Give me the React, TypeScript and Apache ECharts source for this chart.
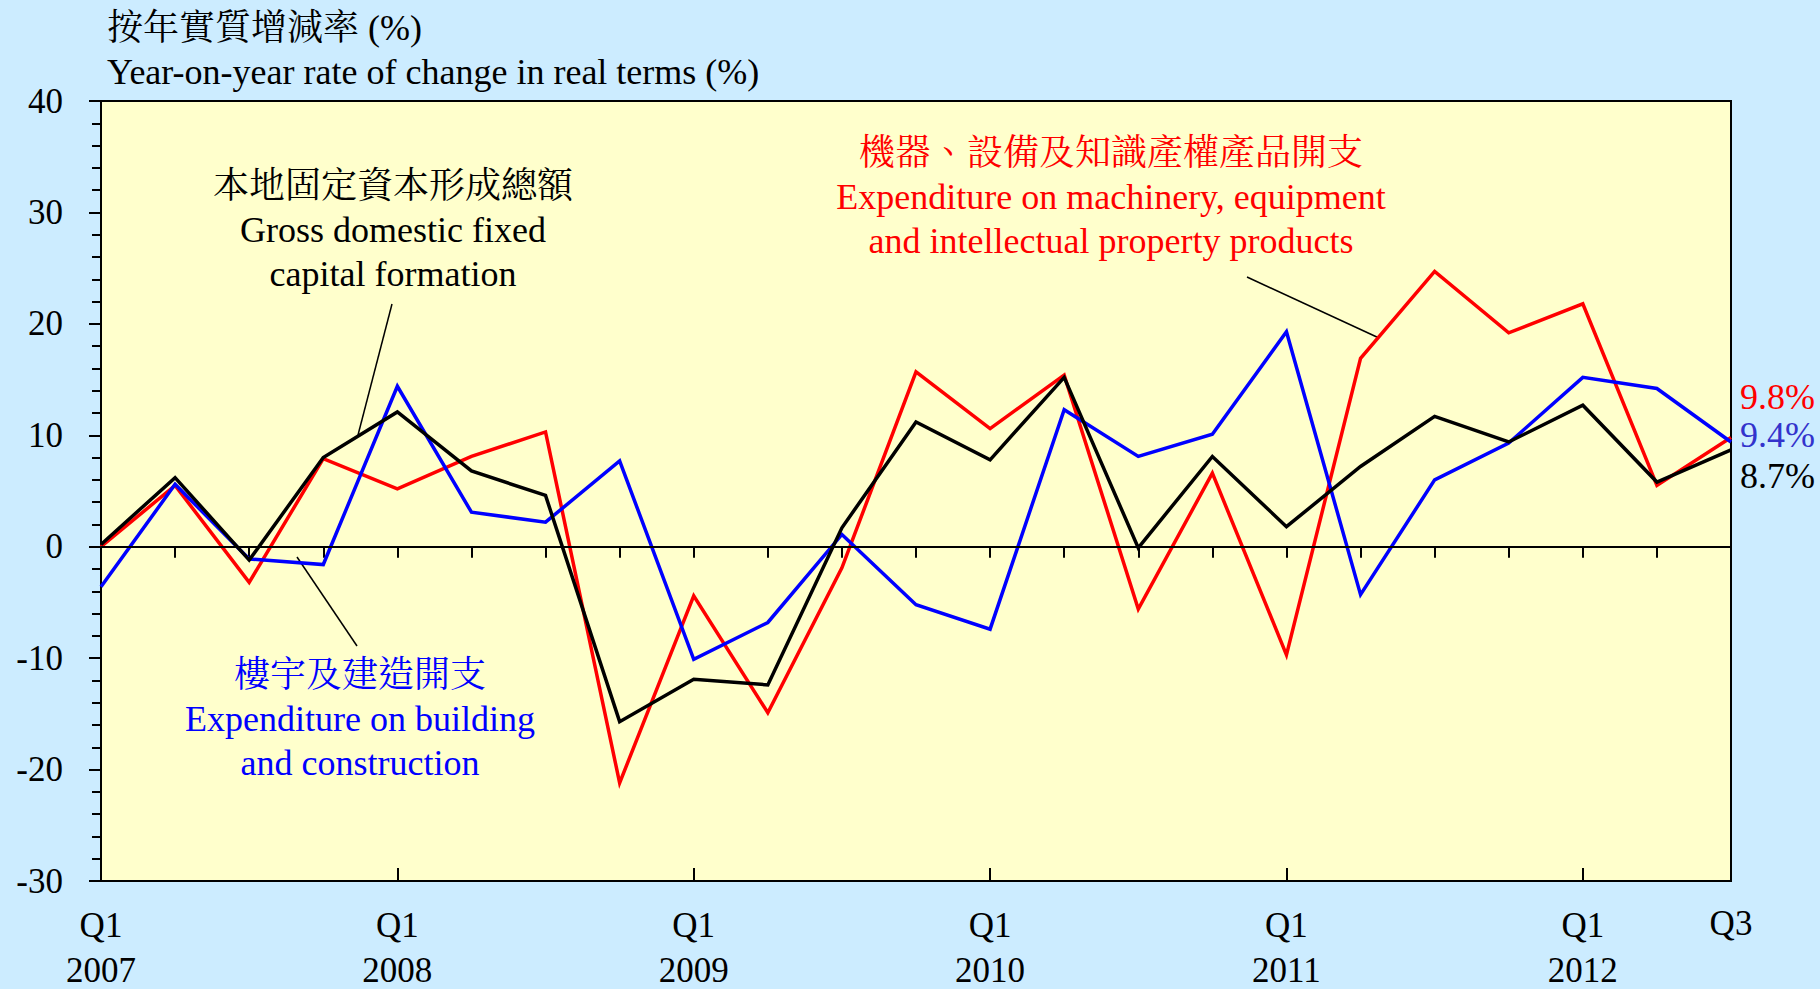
import React, { useEffect, useRef } from "react";
import * as echarts from "echarts";

// Quarters from Q1 2007 to Q3 2012
const quarters = [
  "Q1", "Q2", "Q3", "Q4",
  "Q1", "Q2", "Q3", "Q4",
  "Q1", "Q2", "Q3", "Q4",
  "Q1", "Q2", "Q3", "Q4",
  "Q1", "Q2", "Q3", "Q4",
  "Q1", "Q2", "Q3",
];
const years = [
  "2007", "2007", "2007", "2007",
  "2008", "2008", "2008", "2008",
  "2009", "2009", "2009", "2009",
  "2010", "2010", "2010", "2010",
  "2011", "2011", "2011", "2011",
  "2012", "2012", "2012",
];
const categories = quarters.map((q, i) => q + " " + years[i]);

// Expenditure on machinery, equipment and intellectual property products
const machinery = [
  0.0, 5.5, -3.2, 7.9, 5.2, 8.1, 10.3, -21.2, -4.4, -14.9, -1.9, 15.7,
  10.6, 15.4, -5.6, 6.6, -9.7, 16.9, 24.7, 19.2, 21.8, 5.5, 9.8,
];
// Expenditure on building and construction
const building = [
  -3.6, 5.6, -1.1, -1.6, 14.4, 3.1, 2.2, 7.7, -10.1, -6.8, 1.1, -5.2,
  -7.4, 12.3, 8.1, 10.1, 19.3, -4.3, 6.0, 9.3, 15.2, 14.2, 9.4,
];
// Gross domestic fixed capital formation
const gdfcf = [
  0.2, 6.2, -1.2, 8.0, 12.1, 6.8, 4.6, -15.7, -11.9, -12.4, 1.7, 11.2,
  7.8, 15.2, -0.1, 8.1, 1.8, 7.2, 11.7, 9.4, 12.7, 5.8, 8.7,
];

const endLabels = ["9.8%", "9.4%", "8.7%"];

const titleZh = "按年實質增減率 (%)";
const titleEn = "Year-on-year rate of change in real terms (%)";
const machineryLabel = [
  "機器、設備及知識產權產品開支",
  "Expenditure on machinery, equipment",
  "and intellectual property products",
];
const gdfcfLabel = ["本地固定資本形成總額", "Gross domestic fixed", "capital formation"];
const buildingLabel = ["樓宇及建造開支", "Expenditure on building", "and construction"];

const FONT = "'Liberation Serif', 'Times New Roman', 'Noto Serif CJK TC', 'Noto Sans CJK TC', serif";
const FS = 36;
const AXFS = 35;

const RED = "#FF0000";
const BLUE = "#0000FF";
const BLACK = "#000000";

function textLines(lines: string[], cx: number, ys: number[], color: string) {
  return lines.map((t, i) => ({
    type: "text",
    x: cx,
    y: ys[i],
    silent: true,
    style: {
      text: t,
      fill: color,
      fontFamily: FONT,
      fontSize: FS,
      align: "center",
      verticalAlign: "middle",
    },
  }));
}

export default function App() {
  const ref = useRef<HTMLDivElement>(null);
  useEffect(() => {
    document.body.style.margin = "0";
    document.body.style.overflow = "hidden";
    const chart = echarts.init(ref.current!, null, { renderer: "svg" });
    const option: any = {
      animation: false,
      backgroundColor: "#CCECFF",
      textStyle: { fontFamily: FONT },
      grid: {
        left: 101,
        right: 89,
        top: 101,
        bottom: 108,
        show: true,
        backgroundColor: "#FFFFCC",
        borderColor: "#000",
        borderWidth: 2,
      },
      xAxis: [
        {
          type: "category",
          data: categories,
          boundaryGap: false,
          position: "bottom",
          axisLine: { show: true, lineStyle: { color: "#000", width: 2 } },
          axisTick: { show: true, interval: 0, length: 11, lineStyle: { color: "#000", width: 2 } },
          splitLine: { show: false },
          axisLabel: {
            interval: 0,
            margin: 27,
            color: "#000",
            fontFamily: FONT,
            fontSize: AXFS,
            formatter: (_v: string, idx: number) => {
              if (idx === categories.length - 1) return "{q3|" + quarters[idx] + "}";
              if (quarters[idx] === "Q1") return "{q|" + quarters[idx] + "}\n{y|" + years[idx] + "}";
              return "";
            },
            rich: {
              q: { lineHeight: 34, fontSize: AXFS, fontFamily: FONT, color: "#000" },
              y: { lineHeight: 56, fontSize: AXFS, fontFamily: FONT, color: "#000" },
              q3: { lineHeight: 30, fontSize: AXFS, fontFamily: FONT, color: "#000" },
            },
          },
        },
        {
          type: "category",
          data: categories,
          boundaryGap: false,
          position: "bottom",
          offset: 0,
          axisLine: { show: false },
          axisTick: {
            show: true,
            inside: true,
            length: 13,
            interval: (idx: number) => quarters[idx] === "Q1",
            lineStyle: { color: "#000", width: 2 },
          },
          axisLabel: { show: false },
          splitLine: { show: false },
        },
      ],
      yAxis: {
        type: "value",
        min: -30,
        max: 40,
        interval: 10,
        axisLine: { show: true, lineStyle: { color: "#000", width: 2 } },
        axisTick: { show: true, length: 12, lineStyle: { color: "#000", width: 2 } },
        minorTick: { show: true, splitNumber: 5, length: 9, lineStyle: { color: "#000", width: 2 } },
        splitLine: { show: false },
        minorSplitLine: { show: false },
        axisLabel: { margin: 38, color: "#000", fontFamily: FONT, fontSize: AXFS },
      },
      series: [
        {
          name: machineryLabel[1],
          type: "line",
          data: machinery,
          symbol: "none",
          lineStyle: { color: RED, width: 3.5, join: "miter" },
          itemStyle: { color: RED },
          markLine: {
            silent: true,
            symbol: ["none", "none"],
            label: { show: false },
            lineStyle: { color: "#000", width: 2, type: "solid" },
            data: [{ yAxis: 0 }],
          },
          z: 3,
        },
        {
          name: buildingLabel[1],
          type: "line",
          data: building,
          symbol: "none",
          lineStyle: { color: BLUE, width: 3.5, join: "miter" },
          itemStyle: { color: BLUE },
          z: 4,
        },
        {
          name: gdfcfLabel[1],
          type: "line",
          data: gdfcf,
          symbol: "none",
          lineStyle: { color: BLACK, width: 3.5, join: "miter" },
          itemStyle: { color: BLACK },
          z: 5,
        },
      ],
      graphic: [
        {
          type: "text",
          x: 107,
          y: 28,
          silent: true,
          style: { text: titleZh, fill: "#000", fontFamily: FONT, fontSize: FS, verticalAlign: "middle" },
        },
        {
          type: "text",
          x: 107,
          y: 72,
          silent: true,
          style: { text: titleEn, fill: "#000", fontFamily: FONT, fontSize: FS, verticalAlign: "middle" },
        },
        ...textLines(machineryLabel, 1111, [153, 197, 241], RED),
        ...textLines(gdfcfLabel, 393, [186, 230, 274], BLACK),
        ...textLines(buildingLabel, 360, [675, 719, 763], BLUE),
        { type: "line", silent: true, shape: { x1: 1247, y1: 277, x2: 1379, y2: 338 }, style: { stroke: "#000", lineWidth: 1.5 } },
        { type: "line", silent: true, shape: { x1: 392, y1: 304, x2: 358, y2: 435 }, style: { stroke: "#000", lineWidth: 1.5 } },
        { type: "line", silent: true, shape: { x1: 297, y1: 557, x2: 357, y2: 646 }, style: { stroke: "#000", lineWidth: 1.5 } },
        {
          type: "text", x: 1740, y: 397, silent: true,
          style: { text: endLabels[0], fill: RED, fontFamily: FONT, fontSize: FS, align: "left", verticalAlign: "middle" },
        },
        {
          type: "text", x: 1740, y: 435, silent: true,
          style: { text: endLabels[1], fill: "#3333CC", fontFamily: FONT, fontSize: FS, align: "left", verticalAlign: "middle" },
        },
        {
          type: "text", x: 1740, y: 476, silent: true,
          style: { text: endLabels[2], fill: BLACK, fontFamily: FONT, fontSize: FS, align: "left", verticalAlign: "middle" },
        },
      ],
    };
    chart.setOption(option);
    return () => chart.dispose();
  }, []);
  return <div ref={ref} style={{ width: 1820, height: 989 }} />;
}
